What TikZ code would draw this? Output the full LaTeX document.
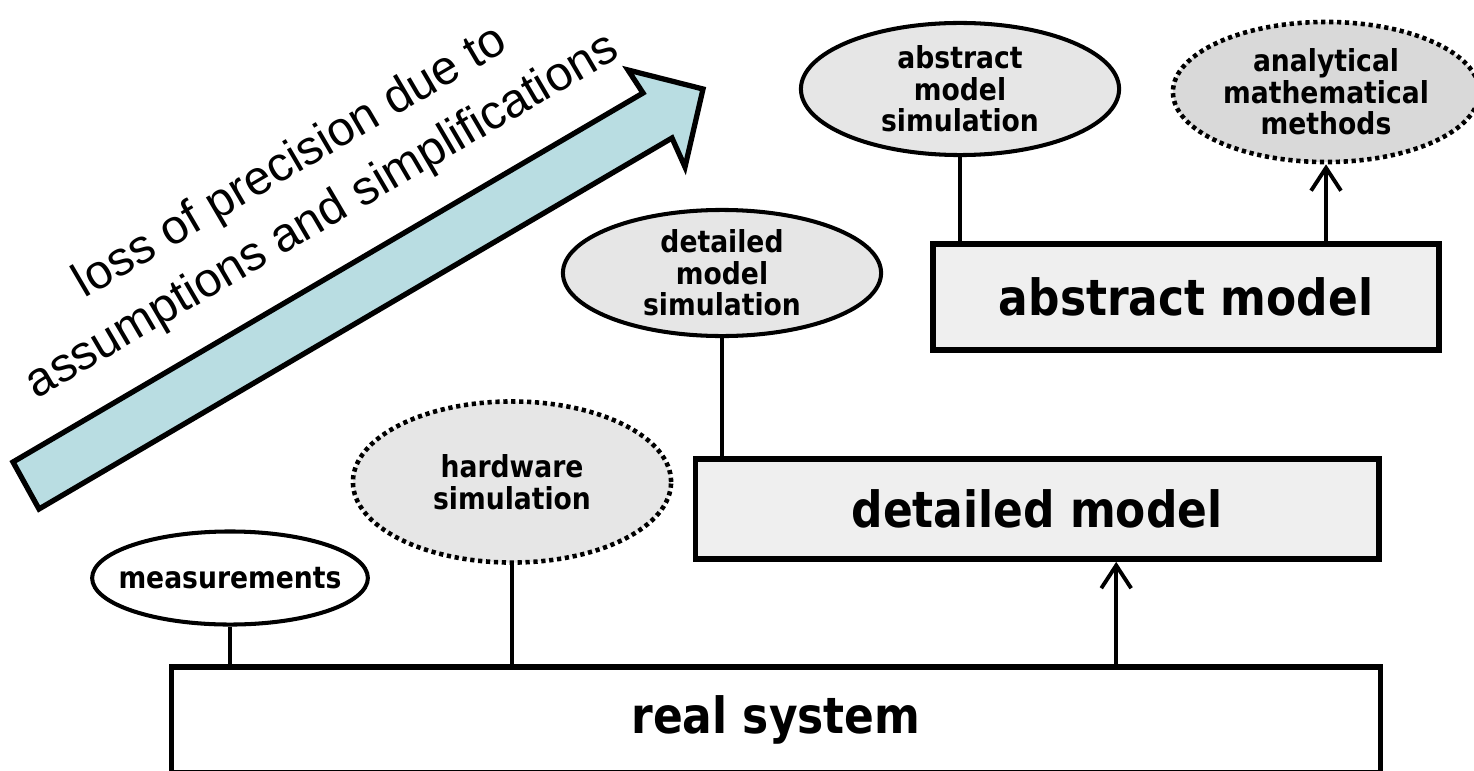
\documentclass[tikz,border=0pt]{standalone}
\usepackage{fontspec}
\usetikzlibrary{shapes,arrows.meta,positioning,calc}
\newfontfamily\boxfont{DejaVu Sans}[FakeStretch=0.88]
\newfontfamily\arrowfont{Liberation Sans}
\definecolor{boxgray}{RGB}{239,239,239}
\definecolor{ellgray}{RGB}{230,230,230}
\definecolor{ellgraydark}{RGB}{217,217,217}
\definecolor{arrowblue}{RGB}{185,221,226}

\begin{document}
\begin{tikzpicture}[
    x=0.01cm, y=-0.01cm,
    model/.style={draw, rectangle, line width=1.6pt, fill=boxgray, inner sep=0pt, font=\boxfont\bfseries\fontsize{14.2}{16}\selectfont},
    method/.style={draw, ellipse, line width=1.15pt, fill=ellgray, inner sep=0pt, align=center, font=\boxfont\bfseries\fontsize{8.6}{9}\selectfont},
    dotmethod/.style={method, line width=1.3pt, dash pattern=on 1.2pt off 1.05pt},
    edge/.style={line width=1pt},
    upedge/.style={edge, -{Straight Barb[length=6.5pt, width=8.5pt, line width=1.1pt]}},
    bigarrow/.style={draw, line width=1.5pt, fill=arrowblue, line join=miter},
    slanted/.style={font=\arrowfont\fontsize{13.7}{17.8}\selectfont, align=center, inner sep=0pt},
]
\useasboundingbox (0,0) rectangle (1474,770);

% Models
\node[model, fill=white, minimum width=12.08cm, minimum height=1.06cm] (real) at (776,720) {real system};
\node[model, minimum width=6.83cm, minimum height=1.0cm] (detailed) at (1037,509) {detailed model};
\node[model, minimum width=5.06cm, minimum height=1.06cm] (abstract) at (1186,297) {abstract model};

% Methods
\node[method, fill=white, inner xsep=-0.14cm, minimum height=0.93cm] (meas) at (230,578) {measurements};
\node[dotmethod, minimum width=3.18cm, minimum height=1.61cm] (hwsim) at (512,482) {hardware\\simulation};
\node[method, minimum width=3.18cm, minimum height=1.26cm] (detsim) at (722,273) {detailed\\model\\simulation};
\node[method, minimum width=3.18cm, minimum height=1.32cm] (abssim) at (960,89) {abstract\\model\\simulation};
\node[dotmethod, fill=ellgraydark, minimum width=3.06cm, minimum height=1.40cm] (mathmeth) at (1326,92) {analytical\\mathematical\\methods};

% Links
\draw[edge] (meas.south) -- (meas.south |- real.north);
\draw[edge] (hwsim.south) -- (hwsim.south |- real.north);
\draw[edge] (detsim.south) -- (detsim.south |- detailed.north);
\draw[edge] (abssim.south) -- (abssim.south |- abstract.north);
\draw[upedge] ([xshift=3.4cm]real.north) -- ([xshift=3.4cm]real.north |- detailed.south);
\draw[upedge] (mathmeth.south |- abstract.north) -- (mathmeth.south);

% Precision arrow
\draw[bigarrow] (13,462) -- (643,93) -- (628,70) -- (703,89) -- (685,167) -- (672,138) -- (39,509) -- cycle;
\node[slanted, rotate=30.4] (losstext) at (307,190) {loss of precision due to\\assumptions and simplifications};

\end{tikzpicture}
\end{document}
